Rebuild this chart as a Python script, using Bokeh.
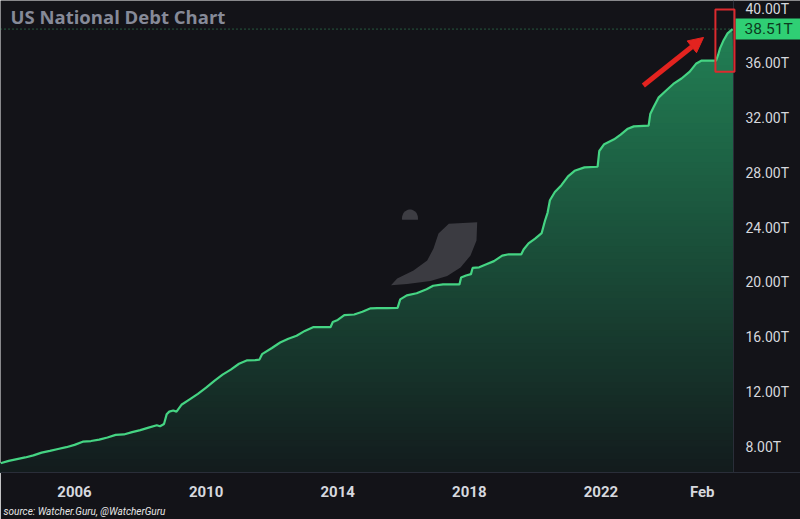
import numpy as np
from bokeh.plotting import figure
from bokeh.models import (Range1d, FixedTicker, Span, Label, BoxAnnotation, Arrow,
                          NormalHead, PolyAnnotation, Title)
from bokeh.core.properties import value
from bokeh.embed import file_html
from bokeh.resources import INLINE

# ---------------- data ----------------
years = [2003.75, 2004.0, 2004.25, 2004.5, 2004.75, 2005.0, 2005.25, 2005.5, 2005.75,
         2006.0, 2006.25, 2006.5, 2006.75, 2007.0, 2007.25, 2007.5, 2007.75, 2008.0,
         2008.25, 2008.5, 2008.6, 2008.72, 2008.8, 2008.88, 2009.0, 2009.1, 2009.25,
         2009.5, 2009.75, 2010.0, 2010.25, 2010.5, 2010.75, 2011.0, 2011.25, 2011.5,
         2011.62, 2011.7, 2012.0, 2012.25, 2012.5, 2012.75, 2013.0, 2013.25, 2013.5,
         2013.78, 2013.85, 2014.0, 2014.2, 2014.5, 2014.75, 2015.0, 2015.2, 2015.5,
         2015.82, 2015.9, 2016.1, 2016.4, 2016.7, 2016.9, 2017.2, 2017.7, 2017.75,
         2017.9, 2018.05, 2018.1, 2018.3, 2018.5, 2018.75, 2019.0, 2019.2, 2019.58,
         2019.65, 2019.8, 2020.0, 2020.2, 2020.3, 2020.38, 2020.45, 2020.6, 2020.8,
         2021.0, 2021.2, 2021.5, 2021.9, 2021.95, 2022.1, 2022.4, 2022.6, 2022.8,
         2023.0, 2023.45, 2023.5, 2023.6, 2023.75, 2023.95, 2024.2, 2024.45, 2024.7,
         2024.9, 2025.05, 2025.5, 2025.56, 2025.62, 2025.73, 2025.85, 2026.0]
debt_t = [6.78, 6.95, 7.08, 7.20, 7.35, 7.55, 7.68, 7.82, 7.95,
          8.12, 8.35, 8.40, 8.50, 8.66, 8.85, 8.88, 9.05, 9.20,
          9.38, 9.55, 9.48, 9.65, 10.35, 10.55, 10.63, 10.55, 11.05,
          11.45, 11.85, 12.30, 12.80, 13.25, 13.62, 14.05, 14.30, 14.32,
          14.35, 14.75, 15.20, 15.60, 15.88, 16.10, 16.45, 16.72, 16.72,
          16.72, 17.10, 17.25, 17.60, 17.65, 17.85, 18.10, 18.12, 18.12,
          18.13, 18.75, 19.05, 19.20, 19.50, 19.75, 19.85, 19.85, 20.35,
          20.50, 20.60, 21.05, 21.10, 21.30, 21.55, 21.95, 22.05, 22.05,
          22.40, 22.85, 23.20, 23.60, 24.50, 25.10, 26.00, 26.60, 27.10,
          27.75, 28.15, 28.40, 28.45, 29.60, 30.10, 30.45, 30.80, 31.20,
          31.40, 31.45, 32.30, 32.80, 33.50, 33.95, 34.50, 34.90, 35.40,
          36.00, 36.20, 36.20, 36.60, 37.10, 37.70, 38.20, 38.51]

x_tick_values = [2006, 2010, 2014, 2018, 2022, 2025.08]
x_tick_labels = ["2006", "2010", "2014", "2018", "2022", "Feb"]
y_tick_values = [8, 12, 16, 20, 24, 28, 32, 36, 40]
y_tick_labels = ["8.00T", "12.00T", "16.00T", "20.00T", "24.00T", "28.00T",
                 "32.00T", "36.00T", "40.00T"]

title_text = "US National Debt Chart"
source_text = "source: Watcher.Guru, @WatcherGuru"

# ---------------- styling / layout ----------------
BG = "#131318"
LINE = "#45d483"
AXIS_TXT = "#d6d8de"
SEP = "#2a2e39"
FONT = "Roboto"
W, H = 800, 519
FRAME_H = 472
PANE_W = 733          # width of the price pane; the price scale sits to its right

x0, XE = 2003.75, 2026.03     # visible span of the price pane
y0, y1 = 6.1, 40.6
yr_per_px = (XE - x0) / PANE_W
x1 = x0 + W * yr_per_px        # frame spans the whole width (pane + price scale)


def x_at(px):
    return x0 + px * yr_per_px


p = figure(width=W, height=H, x_range=Range1d(x0, x1), y_range=Range1d(y0, y1),
           output_backend="svg", toolbar_location=None, y_axis_location=None,
           min_border_left=0, min_border_top=0, min_border_right=0, min_border_bottom=47,
           background_fill_color=BG, border_fill_color=BG, outline_line_color=None)
p.grid.visible = False

# watermark (logo crescent + eye), screen units relative to frame (y up)
cres_x = [476.7, 448.3, 438, 433, 426.7, 413, 396.7, 390.5, 406.7, 430, 446.7, 460, 470, 476]
cres_y = [221.7, 223.3, 233, 248, 260, 270, 278, 284.8, 283.5, 280.5, 275.5, 267, 255, 240]
p.add_layout(PolyAnnotation(xs=cres_x, ys=[FRAME_H - v for v in cres_y],
                            xs_units="screen", ys_units="screen",
                            fill_color="#3b3b41", fill_alpha=1, line_color=None,
                            level="underlay"))
ang = np.linspace(-0.15, np.pi + 0.15, 20)
p.add_layout(PolyAnnotation(xs=list(409.5 + 8 * np.cos(ang)),
                            ys=list(FRAME_H - (218 - 9 * np.sin(ang))),
                            xs_units="screen", ys_units="screen",
                            fill_color="#3d3d43", fill_alpha=1, line_color=None,
                            level="underlay"))

# gradient area under curve
xd = np.linspace(years[0], years[-1], 2600)
yd = np.interp(xd, years, debt_t)
top_c = np.array([34, 128, 85])
bot_c = np.array([19, 27, 29])
edges = np.linspace(y0, max(debt_t) + 0.2, 70)
for hi in edges[::-1][:-1]:
    t = np.clip((hi - y0) / (max(debt_t) - y0), 0, 1)
    c = (bot_c + t * (top_c - bot_c)).astype(int)
    p.varea(x=xd, y1=np.full_like(xd, y0), y2=np.minimum(yd, hi),
            fill_color="#%02x%02x%02x" % tuple(c), fill_alpha=1)

p.line(years, debt_t, line_color=LINE, line_width=2.2)

# pane separator (price scale border)
p.add_layout(Span(location=XE, dimension="height", line_color=SEP, line_width=1))

# price scale labels
p.text(x=[x_at(745)] * len(y_tick_values), y=y_tick_values, text=y_tick_labels,
       text_align="left", text_baseline="middle", text_font=value(FONT),
       text_font_size="14px", text_color=AXIS_TXT)

# last value dotted line + tag
last = debt_t[-1]
p.segment(x0=[x0], y0=[last], x1=[XE], y1=[last], line_color=LINE, line_alpha=0.7,
          line_dash="1 3", line_width=1)
tag_half = 10.5 * (y1 - y0) / FRAME_H
p.quad(left=[x_at(735)], right=[x1], bottom=[last - tag_half], top=[last + tag_half],
       fill_color="#2fcf74", line_color=None)
p.text(x=[x_at(744)], y=[last], text=[f"{last:.2f}T"], text_align="left",
       text_baseline="middle", text_font=value(FONT),
       text_font_size="15.5px", text_color="#0c3b20")

# red highlight box and arrow
p.add_layout(BoxAnnotation(left=2025.48, right=XE + 0.03, bottom=35.4, top=39.95,
                           fill_alpha=0, line_color="#dc2a2e", line_alpha=1,
                           line_width=2))
p.add_layout(Arrow(x_start=2023.29, y_start=34.39, x_end=2025.12, y_end=37.9,
                   line_color="#e3231f", line_width=5,
                   end=NormalHead(size=15, fill_color="#e3231f", line_color="#e3231f")))

# title overlaid on the pane
p.add_layout(Label(x=10, y=FRAME_H - 3, x_units="screen", y_units="screen",
                   text=title_text, text_baseline="top", text_align="left",
                   text_font="Open Sans", text_font_size="18.5px", text_font_style="bold",
                   text_color="#868a98"))

# time axis
xa = p.xaxis[0]
xa.ticker = FixedTicker(ticks=x_tick_values)
xa.major_label_overrides = {v: l for v, l in zip(x_tick_values, x_tick_labels)}
xa.major_label_text_font = FONT
xa.major_label_text_font_size = "15px"
xa.major_label_text_font_style = "bold"
xa.major_label_text_color = AXIS_TXT
xa.major_label_standoff = 4
xa.axis_line_color = SEP
xa.major_tick_line_color = None
xa.minor_tick_line_color = None

p.add_layout(Title(text=source_text, align="left", text_font=FONT, text_font_size="10px",
                   text_font_style="italic", text_color="#e6e6e6", offset=3,
                   standoff=0), "below")

open("out.html", "w").write(file_html(p, INLINE))
